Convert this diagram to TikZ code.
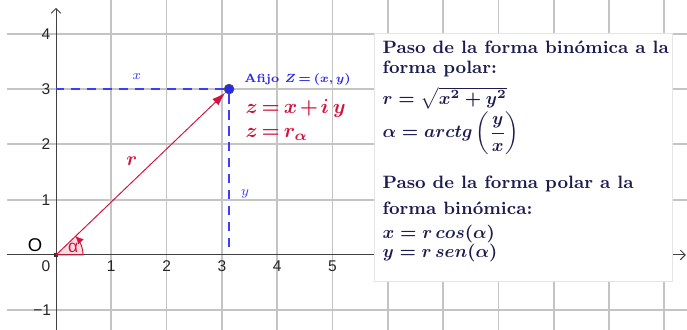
\RequirePackage{fix-cm}
\documentclass[tikz,border=0pt]{standalone}
\usepackage{amsmath,amssymb}
\usepackage{fontspec}
\setsansfont{Liberation Sans}
\usetikzlibrary{arrows.meta}
\definecolor{zred}{RGB}{210,20,60}
\definecolor{zblue}{RGB}{40,40,240}
\definecolor{dashblue}{RGB}{60,60,255}
\definecolor{navy}{RGB}{28,28,80}
\definecolor{gridgray}{RGB}{196,196,196}
\begin{document}
\begin{tikzpicture}[
  grid line/.style={draw=gridgray, line width=0.9pt},
  axis/.style={draw=black!75, line width=0.5pt, -{Straight Barb[length=2.5pt,width=5pt]}},
  tick/.style={font=\sffamily\fontsize{8}{9}\selectfont, text=black!85},
  proj/.style={draw=dashblue, line width=0.75pt, dash pattern=on 4.8pt off 3.4pt},
  vec/.style={draw=zred, line width=0.5pt, -{Latex[length=7pt,width=4.5pt]}},
  lbl/.style={inner sep=0pt, anchor=base west},
  tight/.style={execute at begin node={\thickmuskip=3mu\medmuskip=2mu}},
  conv/.style={lbl, text=navy, font=\fontsize{9.2}{11}\selectfont\bfseries}
]
\useasboundingbox (-1.013,-1.356) rectangle (11.411,4.611);
% grid
\foreach \i in {1,...,11}
  \draw[grid line] (\i,-1.356) -- (\i,4.611);
\foreach \j in {-1,1,2,3,4}
  \draw[grid line] (-0.88,\j) -- (11.411,\j);
% axes
\draw[axis] (-0.88,0) -- (11.39,0);
\draw[axis] (0,-1.356) -- (0,4.47);
\foreach \i in {1,...,5}
  \node[tick] (tx\i) at (\i,-0.2) {\i};
\node[tick] (tx0) at (-0.18,-0.2) {0};
\foreach \j in {1,...,4}
  \node[tick] (ty\j) at (-0.18,\j) {\j};
\node[tick] (tym) at (-0.25,-1) {−1};

\coordinate (Zx) at (0,3);
\coordinate (Zy) at (3.13,0.12);
\node[fill=black!80, inner sep=0pt, minimum size=2pt] (O) at (0,0) {};
\node[circle, fill=zblue, draw=black!70, inner sep=0pt, minimum size=5pt] (Z) at (3.13,3) {};

% angle
\fill[zred, fill opacity=0.15] (O.center) -- ++(0.49,0) arc[start angle=0, end angle=43.8, radius=0.49] -- cycle;
\draw[zred, line width=0.5pt] (O.center) -- ++(0.49,0) arc[start angle=0, end angle=43.8, radius=0.49];
\draw[zred, line width=0.5pt, -{Latex[length=4pt,width=4pt]}] ([shift={(30:0.49)}]O.center) arc[start angle=30, end angle=43.8, radius=0.49];

\draw[proj] (Z) -- (Zx);
\draw[proj] (Z) -- (Zy);
\draw[vec] (O.center) -- (Z);

\node[text=dashblue, font=\fontsize{7}{8}\selectfont] (xlbl) at (1.46,3.23) {$x$};
\node[text=dashblue, font=\fontsize{7}{8}\selectfont] (ylbl) at (3.42,1.1) {$y$};
\node[text=zred, font=\fontsize{10}{12}\selectfont] (rlbl) at (1.37,1.7) {$\boldsymbol{r}$};
\node[font=\sffamily\fontsize{9.5}{11}\selectfont] (Olbl) at (-0.38,0.18) {O};
\node[text=zred, font=\sffamily\fontsize{9}{10}\selectfont] (alfa) at (0.31,0.12) {α};
\node[lbl, tight, text=zblue, font=\fontsize{6.1}{7}\selectfont\bfseries] (afijo) at (3.4,3.12) {Afijo $\boldsymbol{Z=(x,y)}$};
\node[lbl, tight, text=zred, font=\fontsize{10.5}{12}\selectfont] (bin) at (3.42,2.55) {$\boldsymbol{z=x+i\,y}$};
\node[lbl, tight, text=zred, font=\fontsize{10.5}{12}\selectfont] (pol) at (3.42,2.13) {$\boldsymbol{z=r_\alpha}$};

% conversion box
\filldraw[fill=white, draw=black!10] (5.75,-0.47) rectangle (11.14,4.01);
\node[conv] (c1) at (5.9,3.64) {Paso de la forma binómica a la};
\node[conv] (c2) at (5.9,3.28) {forma polar:};
\node[conv] (c3) at (5.9,2.73) {$\boldsymbol{r=\sqrt{x^2+y^2}}$};
\node[conv] (c4) at (5.9,2.12) {$\boldsymbol{\alpha=arctg\left(\dfrac{y}{x}\right)}$};
\node[conv] (c5) at (5.9,1.2) {Paso de la forma polar a la};
\node[conv] (c6) at (5.9,0.74) {forma binómica:};
\node[conv] (c7) at (5.9,0.29) {$\boldsymbol{x=r\,cos(\alpha)}$};
\node[conv] (c8) at (5.9,-0.05) {$\boldsymbol{y=r\,sen(\alpha)}$};
\end{tikzpicture}
\end{document}
